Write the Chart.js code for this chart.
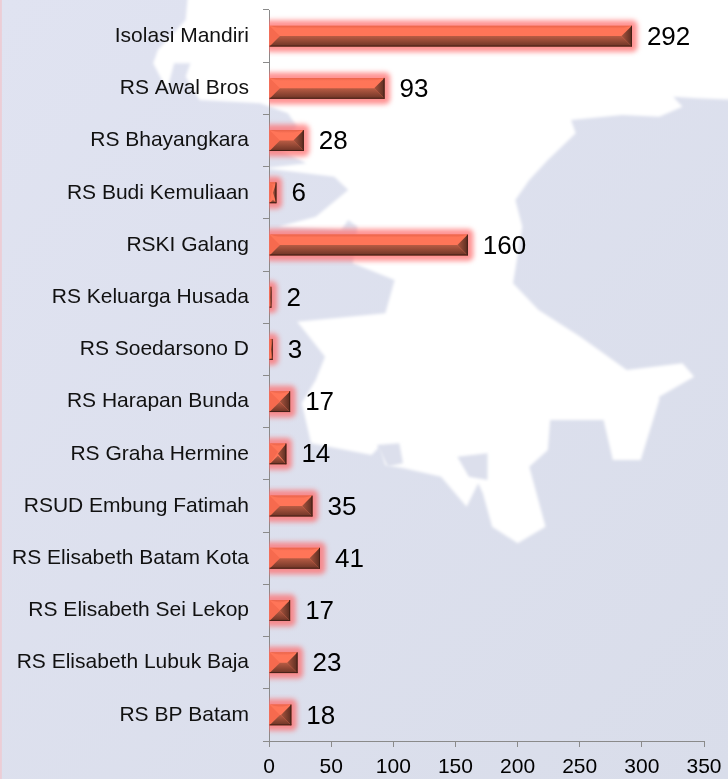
<!DOCTYPE html>
<html><head><meta charset="utf-8">
<style>
html,body{margin:0;padding:0;width:728px;height:779px;overflow:hidden;background:#dee1ef}
#bg{position:absolute;left:0;top:0;width:728px;height:779px}
#c{position:absolute;left:0;top:0}
</style>
<script src="https://cdn.jsdelivr.net/npm/chart.js@4"></script>
</head><body>
<svg id="bg" viewBox="0 0 1568 2337" preserveAspectRatio="none" xmlns="http://www.w3.org/2000/svg">
<defs>
<linearGradient id="g" x1="0" y1="0" x2="1" y2="1"><stop offset="0" stop-color="#e0e3f1"/><stop offset="1" stop-color="#d9ddea"/></linearGradient>
<filter id="b" x="-5%" y="-5%" width="110%" height="110%"><feGaussianBlur stdDeviation="4"/></filter>
</defs>
<rect width="1568" height="2337" fill="url(#g)"/>
<path filter="url(#b)" fill="#fff" d="M405,-20 L1600,-20 L1600,300 L1500,295 L1450,290 L1470,320 L1420,350 L1340,345 L1230,360 L1240,400 L1180,480 L1140,540 L1110,600 L1125,680 L1105,850 L1160,930 L1250,1010 L1350,1110 L1470,1090 L1495,1130 L1420,1190 L1420,1200 L1380,1380 L1320,1380 L1300,1260 L1185,1260 L1180,1350 L1140,1400 L1175,1580 L1115,1630 L1060,1580 L1040,1480 L1030,1450 L1005,1520 L950,1430 L870,1405 L830,1395 L810,1290 L850,1295 L800,1365 L670,1330 L650,1210 L680,1140 L700,1070 L660,1000 L640,965 L830,940 L850,840 L760,790 L770,680 L750,660 L735,690 L600,680 L680,650 L750,570 L720,530 L570,505 L660,490 L590,440 L640,380 L620,340 L560,310 L430,300 L400,230 L410,190 L375,190 L360,270 L330,190 L340,150 L400,60 Z"/>
<path filter="url(#b)" fill="#dcdfec" d="M812,1335 L860,1330 L868,1390 L835,1400 Z M985,1370 L1050,1360 L1050,1440 L1010,1430 Z"/>
<rect x="0" y="0" width="4" height="2337" fill="#eccdd6"/>
</svg>
<canvas id="c" width="728" height="779"></canvas>
<script>
const categories = ["Isolasi Mandiri","RS Awal Bros","RS Bhayangkara","RS Budi Kemuliaan","RSKI Galang","RS Keluarga Husada","RS Soedarsono D","RS Harapan Bunda","RS Graha Hermine","RSUD Embung Fatimah","RS Elisabeth Batam Kota","RS Elisabeth Sei Lekop","RS Elisabeth Lubuk Baja","RS BP Batam"];
const patients = [292,93,28,6,160,2,3,17,14,35,41,17,23,18];
const FONT = '"Liberation Sans", Arial, sans-serif';

const bevelPlugin = {
  id:'bevel',
  beforeDatasetDraw(chart,args){
    const c = chart.ctx, a = chart.chartArea;
    c.save();
    c.beginPath(); c.rect(a.left,0,chart.width,chart.height); c.clip();
    c.filter='blur(2.6px)';
    c.fillStyle='rgba(255,105,105,0.72)';
    args.meta.data.forEach(bar=>{
      const p = bar.getProps(['x','y','base','height'],true);
      const e=5.5;
      c.beginPath();
      c.roundRect(p.base-e,p.y-p.height/2-e,p.x-p.base+2*e,p.height+2*e,5);
      c.fill();
    });
    c.restore();
  },
  afterDatasetDraw(chart,args){
    const c = chart.ctx;
    const meta = args.meta;
    meta.data.forEach((bar,i)=>{
      const p = bar.getProps(['x','y','base','height'],true);
      const L=p.base, R=p.x, T=p.y-p.height/2, B=p.y+p.height/2, M=p.y;
      const d=Math.min(p.height/2,(R-L)/2), mx=R-d, lx=L+d;
      const poly=(pts,fill)=>{c.beginPath();pts.forEach((q,k)=>k?c.lineTo(q[0],q[1]):c.moveTo(q[0],q[1]));c.closePath();c.fillStyle=fill;c.fill();};
      c.save();
      // top rim
      const t=c.createLinearGradient(0,T,0,T+3); t.addColorStop(0,'#e9634a'); t.addColorStop(1,'#ff7558');
      poly([[L,T],[R,T],[mx,T+Math.min(d,3)],[lx,T+Math.min(d,3)]],t);
      // left bevel
      poly([[L,T],[lx,T+d],[L,B]],'#f66a4e');
      // bottom bevel
      const g=c.createLinearGradient(0,B-d,0,B); g.addColorStop(0,'#b85c44'); g.addColorStop(1,'#6c3325');
      poly([[L,B],[lx,B-d],[mx,B-d],[R,B]],g);
      // right bevel
      const r=c.createLinearGradient(R-d,0,R,0); r.addColorStop(0,'#a9553f'); r.addColorStop(1,'#5a2c20');
      poly([[R,T],[R,B],[mx,M]],r);
      // dark edges
      c.strokeStyle='rgba(60,28,20,0.85)'; c.lineWidth=1;
      c.beginPath(); c.moveTo(R-0.5,T); c.lineTo(R-0.5,B); c.moveTo(L,B-0.5); c.lineTo(R,B-0.5); c.stroke();
      // value label
      c.fillStyle='#000'; c.font='26px '+FONT; c.textAlign='left'; c.textBaseline='middle';
      c.fillText(String(patients[i]),R+15,p.y+1.5);
      c.restore();
    });
  }
};

new Chart(document.getElementById('c'),{
  type:'bar',
  data:{labels:categories,datasets:[{data:patients,backgroundColor:'#ff7558',borderWidth:0,barPercentage:0.4,categoryPercentage:1}]},
  options:{
    indexAxis:'y',responsive:false,animation:false,devicePixelRatio:1,
    layout:{padding:{top:10,right:24,left:0,bottom:0}},
    plugins:{legend:{display:false},tooltip:{enabled:false},title:{display:false}},
    scales:{
      y:{
        afterFit(s){s.width=269;s.paddingTop=0;s.paddingBottom=0;},
        grid:{drawOnChartArea:false,tickLength:6,color:'#8a8a8a',offset:true},
        border:{color:'#8a8a8a',width:1},
        ticks:{color:'#111',font:{family:FONT,size:21},padding:14,autoSkip:false}
      },
      x:{
        min:0,max:350,
        afterFit(s){s.height=38;s.paddingLeft=0;s.paddingRight=0;},
        grid:{drawOnChartArea:false,tickLength:6,color:'#8a8a8a'},
        border:{color:'#8a8a8a',width:1},
        ticks:{stepSize:50,color:'#000',font:{family:FONT,size:21},padding:8,maxRotation:0}
      }
    }
  },
  plugins:[bevelPlugin]
});
</script>
</body></html>
